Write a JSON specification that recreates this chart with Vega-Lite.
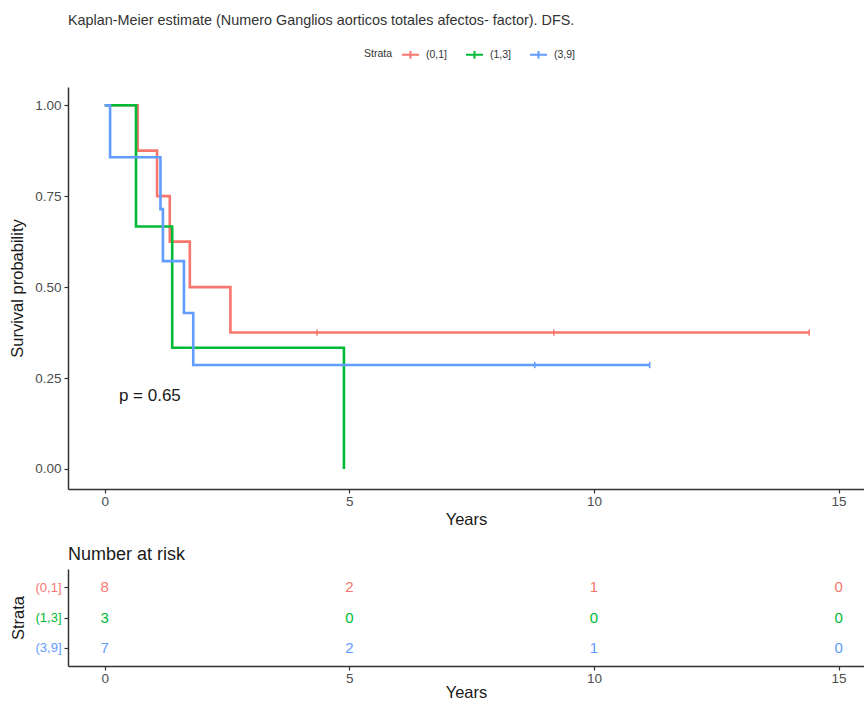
{
  "$schema": "https://vega.github.io/schema/vega-lite/v6.json",
  "background": "white",
  "padding": {"left": 9, "right": 0, "top": 12, "bottom": 0},
  "spacing": 18,
  "config": {
    "font": "Liberation Sans",
    "view": {"stroke": null},
    "axis": {
      "grid": false,
      "domainColor": "#333333",
      "domainWidth": 1.5,
      "tickColor": "#333333",
      "tickWidth": 1.2,
      "tickSize": 4,
      "labelColor": "#4d4d4d",
      "labelFontSize": 13.5,
      "labelPadding": 3,
      "titleFontSize": 16.5,
      "titleFontWeight": "normal",
      "titleColor": "#1a1a1a"
    },
    "axisX": {"labelPadding": 1},
    "title": {"fontWeight": "normal", "color": "#1a1a1a"}
  },
  "datasets": {
    "curves": [
      {"strata": "(0,1]", "time": 0, "surv": 1},
      {"strata": "(0,1]", "time": 0.675, "surv": 0.875},
      {"strata": "(0,1]", "time": 1.07, "surv": 0.75},
      {"strata": "(0,1]", "time": 1.33, "surv": 0.625},
      {"strata": "(0,1]", "time": 1.74, "surv": 0.5},
      {"strata": "(0,1]", "time": 2.57, "surv": 0.375},
      {"strata": "(0,1]", "time": 14.4, "surv": 0.375},
      {"strata": "(1,3]", "time": 0, "surv": 1},
      {"strata": "(1,3]", "time": 0.64, "surv": 0.6667},
      {"strata": "(1,3]", "time": 1.38, "surv": 0.3333},
      {"strata": "(1,3]", "time": 4.89, "surv": 0},
      {"strata": "(3,9]", "time": 0, "surv": 1},
      {"strata": "(3,9]", "time": 0.11, "surv": 0.8571},
      {"strata": "(3,9]", "time": 1.14, "surv": 0.7143},
      {"strata": "(3,9]", "time": 1.19, "surv": 0.5714},
      {"strata": "(3,9]", "time": 1.62, "surv": 0.4286},
      {"strata": "(3,9]", "time": 1.81, "surv": 0.2857},
      {"strata": "(3,9]", "time": 11.14, "surv": 0.2857}
    ],
    "censors": [
      {"strata": "(0,1]", "time": 4.34, "surv": 0.375},
      {"strata": "(0,1]", "time": 9.18, "surv": 0.375},
      {"strata": "(0,1]", "time": 14.4, "surv": 0.375},
      {"strata": "(3,9]", "time": 8.79, "surv": 0.2857},
      {"strata": "(3,9]", "time": 11.14, "surv": 0.2857}
    ],
    "pval": [
      {"time": 0.29, "surv": 0.2, "label": "p = 0.65"}
    ],
    "risk": [
      {"strata": "(0,1]", "time": 0, "n": 8},
      {"strata": "(0,1]", "time": 5, "n": 2},
      {"strata": "(0,1]", "time": 10, "n": 1},
      {"strata": "(0,1]", "time": 15, "n": 0},
      {"strata": "(1,3]", "time": 0, "n": 3},
      {"strata": "(1,3]", "time": 5, "n": 0},
      {"strata": "(1,3]", "time": 10, "n": 0},
      {"strata": "(1,3]", "time": 15, "n": 0},
      {"strata": "(3,9]", "time": 0, "n": 7},
      {"strata": "(3,9]", "time": 5, "n": 2},
      {"strata": "(3,9]", "time": 10, "n": 1},
      {"strata": "(3,9]", "time": 15, "n": 0}
    ]
  },
  "resolve": {"scale": {"color": "independent"}, "legend": {"color": "independent"}},
  "vconcat": [
    {
      "title": {
        "text": "Kaplan-Meier estimate (Numero Ganglios aorticos totales afectos- factor). DFS.",
        "anchor": "start",
        "frame": "group",
        "fontSize": 14.4,
        "color": "#333333",
        "offset": 17
      },
      "width": 796,
      "height": 402,
      "layer": [
        {
          "data": {"name": "curves"},
          "mark": {"type": "line", "interpolate": "step-after", "strokeWidth": 2.6},
          "encoding": {
            "x": {
              "field": "time", "type": "quantitative",
              "scale": {"domain": [-0.75, 15.52], "nice": false, "zero": false},
              "axis": {"values": [0, 5, 10, 15], "title": "Years", "titlePadding": 4}
            },
            "y": {
              "field": "surv", "type": "quantitative",
              "scale": {"domain": [-0.055, 1.05], "nice": false, "zero": false},
              "axis": {"values": [0, 0.25, 0.5, 0.75, 1], "format": ".2f", "title": "Survival probability", "titlePadding": 9}
            },
            "color": {
              "field": "strata", "type": "nominal",
              "scale": {"domain": ["(0,1]", "(1,3]", "(3,9]"], "range": ["#F8766D", "#00BA38", "#619CFF"]},
              "legend": {
                "orient": "none",
                "legendX": 296,
                "legendY": -42,
                "direction": "horizontal",
                "title": "Strata",
                "titleOrient": "left",
                "titleFontSize": 10.5,
                "titleFontWeight": "normal",
                "titleColor": "#333333",
                "titlePadding": 8,
                "labelFontSize": 10.5,
                "labelColor": "#333333",
                "labelOffset": 6,
                "symbolType": "M-1,0H1M0,-0.45V0.45",
                "symbolStrokeWidth": 2,
                "symbolSize": 289,
                "columnPadding": 14
              }
            }
          }
        },
        {
          "data": {"name": "censors"},
          "mark": {"type": "point", "shape": "M0,-1V1", "filled": false, "size": 40, "strokeWidth": 1.5, "opacity": 1},
          "encoding": {
            "x": {"field": "time", "type": "quantitative"},
            "y": {"field": "surv", "type": "quantitative"},
            "color": {"field": "strata", "type": "nominal"}
          }
        },
        {
          "data": {"name": "pval"},
          "mark": {"type": "text", "align": "left", "baseline": "middle", "fontSize": 17, "color": "#1a1a1a"},
          "encoding": {
            "x": {"field": "time", "type": "quantitative"},
            "y": {"field": "surv", "type": "quantitative"},
            "text": {"field": "label"}
          }
        }
      ]
    },
    {
      "title": {
        "text": "Number at risk",
        "anchor": "start",
        "frame": "group",
        "fontSize": 18,
        "offset": 5
      },
      "width": 796,
      "height": 97,
      "data": {"name": "risk"},
      "mark": {"type": "text", "fontSize": 15},
      "encoding": {
        "x": {
          "field": "time", "type": "quantitative",
          "scale": {"domain": [-0.75, 15.52], "nice": false, "zero": false},
          "axis": {"values": [0, 5, 10, 15], "title": "Years", "titlePadding": 0}
        },
        "y": {
          "field": "strata", "type": "nominal",
          "scale": {"type": "point", "domain": ["(0,1]", "(1,3]", "(3,9]"], "padding": 0.6},
          "axis": {
            "title": "Strata",
            "titlePadding": 8,
            "labelFontSize": 13,
            "labelColor": {
              "condition": [
                {"test": "datum.value === '(0,1]'", "value": "#F8766D"},
                {"test": "datum.value === '(1,3]'", "value": "#00BA38"}
              ],
              "value": "#619CFF"
            }
          }
        },
        "color": {
          "field": "strata", "type": "nominal",
          "scale": {"domain": ["(0,1]", "(1,3]", "(3,9]"], "range": ["#F8766D", "#00BA38", "#619CFF"]},
          "legend": null
        },
        "text": {"field": "n", "type": "quantitative"}
      }
    }
  ]
}
